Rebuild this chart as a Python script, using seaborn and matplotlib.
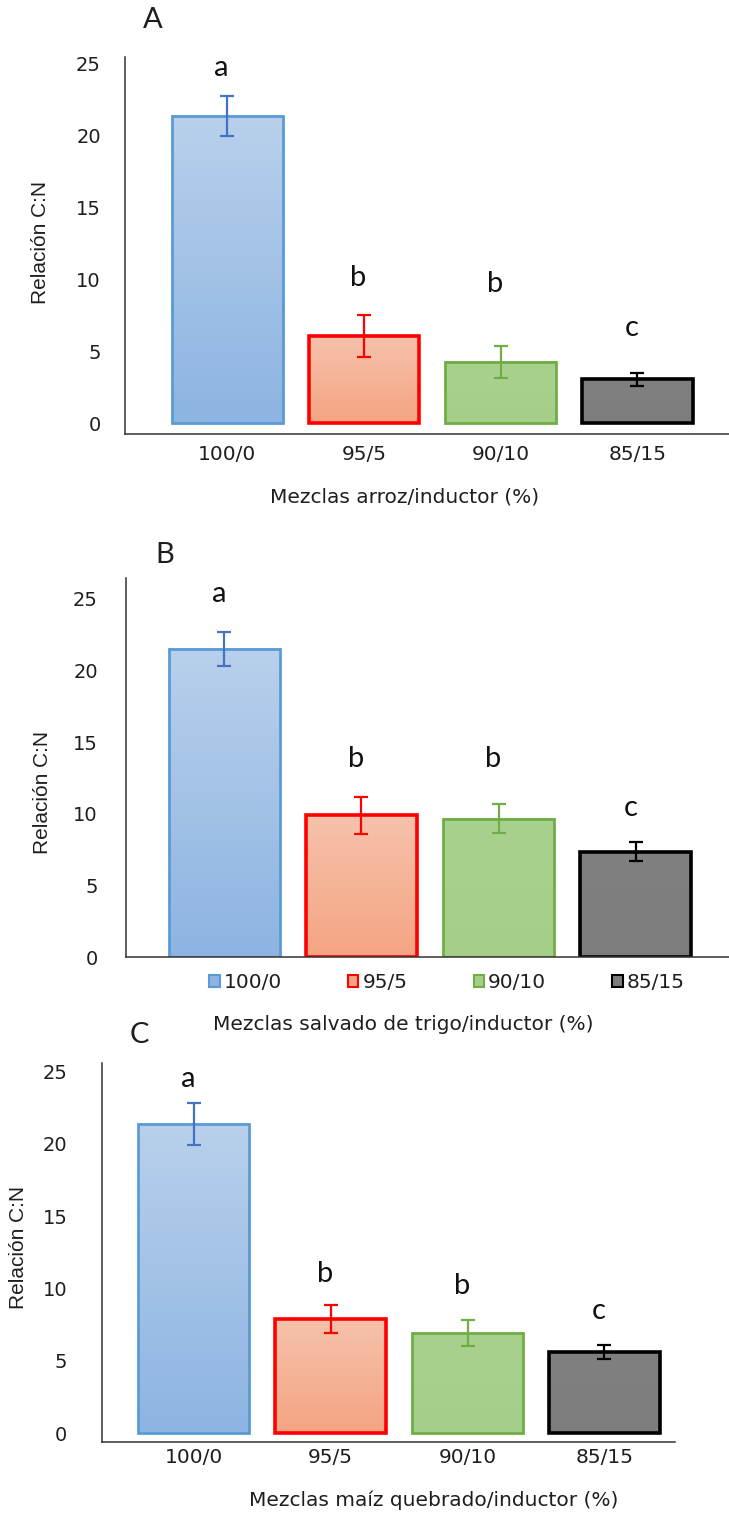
import numpy as np
import matplotlib
matplotlib.use("Agg")
import matplotlib.pyplot as plt
from matplotlib.colors import to_rgb
from matplotlib.patches import Patch
import seaborn as sns

# datos
mezclas = ["100/0", "95/5", "90/10", "85/15"]

cn_arroz = [21.4, 6.05, 4.25, 3.05]
err_arroz = [1.4, 1.45, 1.1, 0.45]
letras_arroz = ["a", "b", "b", "c"]
y_letras_arroz = [24.7, 10.1, 9.7, 6.6]

cn_trigo = [21.5, 9.9, 9.65, 7.35]
err_trigo = [1.2, 1.3, 1.0, 0.65]
letras_trigo = ["a", "b", "b", "c"]
y_letras_trigo = [25.35, 13.8, 13.8, 10.4]

cn_maiz = [21.4, 7.9, 6.9, 5.6]
err_maiz = [1.45, 0.95, 0.9, 0.48]
letras_maiz = ["a", "b", "b", "c"]
y_letras_maiz = [24.5, 11.0, 10.2, 8.45]

bordes = ["#5b9bd5", "#ff0000", "#70ad47", "#000000"]
color_err = ["#4472c4", "#ff0000", "#70ad47", "#000000"]
arriba = ["#b8d0eb", "#f6c2ab", "#a9d18e", "#808080"]
abajo = ["#8db4e2", "#f4a482", "#a5cf88", "#7d7d7d"]
grosor = [2.0, 2.6, 2.0, 2.6]

W, H = 729, 1513
TXT = "#1e1e1e"

sns.set_style("white")
plt.rcParams['font.family'] = ['DejaVu Sans']
plt.rcParams['text.color'] = TXT
plt.rcParams['xtick.color'] = TXT
plt.rcParams['ytick.color'] = TXT
LETRA = ['Lato', 'DejaVu Sans']
ARIAL = ['Liberation Sans', 'DejaVu Sans']

fig = plt.figure(figsize=(W / 100, H / 100), dpi=100)


def rect(left, top, right, bottom):
    return [left / W, 1 - bottom / H, (right - left) / W, (bottom - top) / H]


def panel(pos, valores, errores, letras, y_letras, xlim, ylim, ypad, xpad, con_ticks=True):
    ax = fig.add_axes(rect(*pos))
    sns.barplot(x=mezclas, y=valores, hue=mezclas, palette=abajo, width=0.81,
                errorbar=None, legend=False, ax=ax)
    for i, p in enumerate(ax.patches):
        x0, y0 = p.get_x(), p.get_y()
        w, h = p.get_width(), p.get_height()
        t = np.linspace(0, 1, 64)[:, None]
        img = (np.array(to_rgb(arriba[i])) * (1 - t) + np.array(to_rgb(abajo[i])) * t)[:, None, :]
        ax.imshow(img, extent=(x0, x0 + w, y0, y0 + h), aspect='auto', origin='upper',
                  interpolation='bilinear', zorder=0.8)
        p.set_facecolor('none')
        p.set_edgecolor(bordes[i])
        p.set_linewidth(grosor[i])
        p.set_zorder(1)
        ax.errorbar(i, valores[i], yerr=errores[i], color=color_err[i], capsize=5,
                    elinewidth=1.6, capthick=1.6, zorder=5)
        ax.text(i - 0.04, y_letras[i], letras[i], ha='center', va='center',
                fontsize=21, family=LETRA, color="#111111")
    ax.set_xlim(*xlim)
    ax.set_ylim(*ylim)
    ax.set_yticks([0, 5, 10, 15, 20, 25])
    ax.tick_params(axis='y', length=0, pad=ypad, labelsize=14)
    ax.tick_params(axis='x', length=0, pad=xpad, labelsize=14.5)
    if not con_ticks:
        ax.set_xticklabels([])
    ax.set_xlabel("")
    ax.set_ylabel("")
    for s in ["top", "right"]:
        ax.spines[s].set_visible(False)
    for s in ["left", "bottom"]:
        ax.spines[s].set_color("#333333")
        ax.spines[s].set_linewidth(1.1)
    return ax


ax_a = panel((124.6, 56.7, 729, 434.3), cn_arroz, err_arroz, letras_arroz, y_letras_arroz,
             (-0.75, 3.67), (-0.77, 25.5), 17, 8)
ax_b = panel((125.6, 578, 729, 957), cn_trigo, err_trigo, letras_trigo, y_letras_trigo,
             (-0.72, 3.68), (0, 26.45), 20, 8, con_ticks=False)
ax_c = panel((102, 1063, 675, 1442), cn_maiz, err_maiz, letras_maiz, y_letras_maiz,
             (-0.67, 3.515), (-0.62, 25.6), 25, 4)

# leyenda del panel B
handles = [Patch(facecolor=abajo[i], edgecolor=bordes[i], linewidth=1.5) for i in range(4)]
ax_b.legend(handles, mezclas, loc='center', bbox_to_anchor=(447 / W, 1 - 983 / H),
            bbox_transform=fig.transFigure, ncol=4, frameon=False, fontsize=14.5,
            handlelength=0.5, handleheight=0.55, handletextpad=0.2, columnspacing=3.3)


def ftext(x, y, s, **kw):
    fig.text(x / W, 1 - y / H, s, ha='center', va='center', **kw)


ftext(153, 20, "A", fontsize=21, family=LETRA)
ftext(165, 555, "B", fontsize=21, family=LETRA)
ftext(139, 1035, "C", fontsize=21, family=LETRA)

ftext(405, 497, "Mezclas arroz/inductor (%)", fontsize=14.5)
ftext(403, 1024, "Mezclas salvado de trigo/inductor (%)", fontsize=14.5)
ftext(434, 1500, "Mezclas maíz quebrado/inductor (%)", fontsize=14.5)

ftext(41, 242, "Relación C:N", fontsize=15, rotation=90, family=ARIAL)
ftext(42, 792, "Relación C:N", fontsize=15, rotation=90, family=ARIAL)
ftext(19, 1247, "Relación C:N", fontsize=15, rotation=90, family=ARIAL)

fig.savefig("out.png", dpi=100)
